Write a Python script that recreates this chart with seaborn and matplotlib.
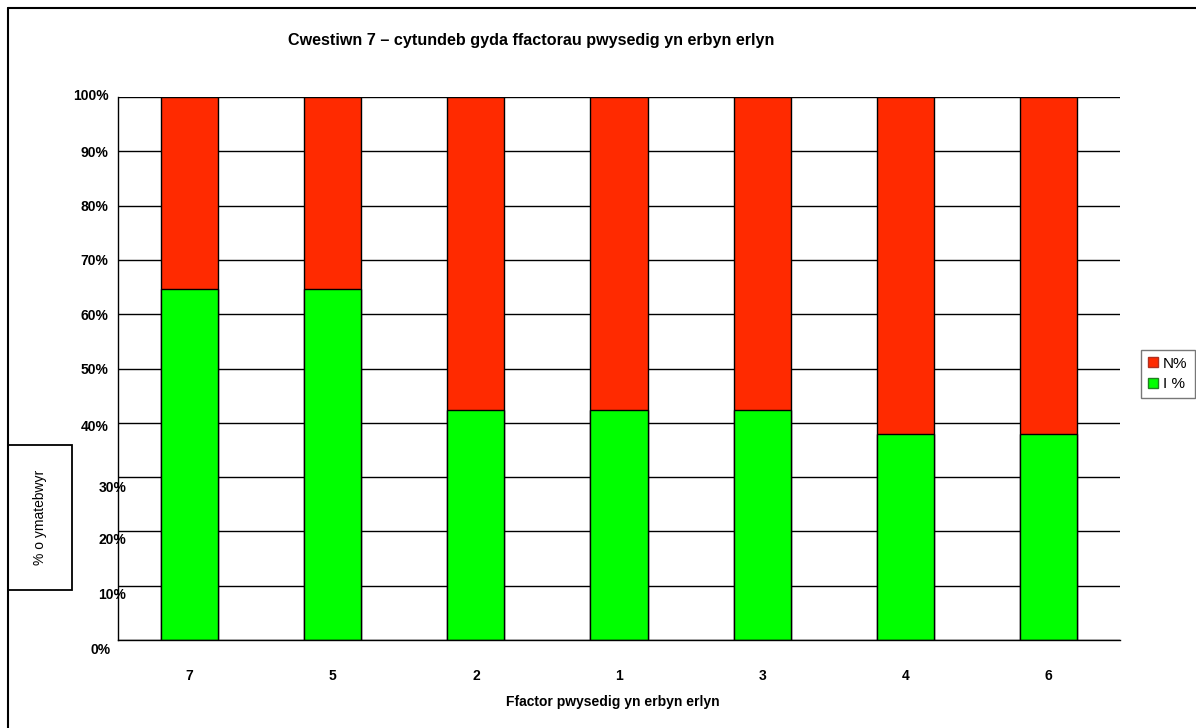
import matplotlib

matplotlib.use("Agg")
import matplotlib.pyplot as plt
import matplotlib.transforms as mtransforms
from matplotlib.patches import Patch, Rectangle
from matplotlib.lines import Line2D
import pandas as pd
import seaborn as sns

# Datos
factores = ["7", "5", "2", "1", "3", "4", "6"]
i_pct = [64.7, 64.7, 42.3, 42.3, 42.3, 37.9, 37.9]
n_pct = [35.3, 35.3, 57.7, 57.7, 57.7, 62.1, 62.1]
yticks = [0, 10, 20, 30, 40, 50, 60, 70, 80, 90, 100]

titulo = "Cwestiwn 7 \u2013 cytundeb gyda ffactorau pwysedig yn erbyn erlyn"
xlabel = "Ffactor pwysedig yn erbyn erlyn"
ylabel = "% o ymatebwyr"

rojo = "#FF2A00"
verde = "#00FF00"

df = pd.DataFrame({"factor": factores, "I": i_pct, "N": n_pct})
df["total"] = df["I"] + df["N"]

sns.set_style("white")
plt.rcParams["font.family"] = ["Liberation Sans", "DejaVu Sans"]
plt.rcParams["text.color"] = "black"
plt.rcParams["xtick.color"] = "black"
plt.rcParams["ytick.color"] = "black"

W, H = 1196, 728
fig = plt.figure(figsize=(W / 100, H / 100), dpi=100)
ax = fig.add_axes([118 / W, 1 - 640 / H, (1120 - 118) / W, (640 - 97) / H])

# Barras apiladas: primero el total (rojo), luego la parte verde
sns.barplot(data=df, x="factor", y="total", order=factores, color=rojo,
            width=0.4, edgecolor="black", linewidth=1, saturation=1, ax=ax)
sns.barplot(data=df, x="factor", y="I", order=factores, color=verde,
            width=0.4, edgecolor="black", linewidth=1, saturation=1, ax=ax)

ax.set_ylim(0, 100)
ax.set_xlim(-0.5, len(factores) - 0.5)
ax.set_yticks(yticks)
ax.set_yticklabels([f"{v}%" for v in yticks])
ax.yaxis.grid(True, color="black", linewidth=1)
ax.set_axisbelow(True)
ax.tick_params(axis="both", length=0, labelsize=10, labelcolor="black")
ax.tick_params(axis="y", pad=7)
ax.tick_params(axis="x", pad=21)
for lab in ax.get_xticklabels() + ax.get_yticklabels():
    lab.set_fontweight("bold")
ax.set_xlabel("")
ax.set_ylabel("")

for s in ["top", "right"]:
    ax.spines[s].set_visible(False)
for s in ["left", "bottom"]:
    ax.spines[s].set_color("black")
    ax.spines[s].set_linewidth(1)

# Desplazamientos de las etiquetas del eje y (como en el original)
desplaz = {0: (2, -8), 10: (18, -8), 20: (18, -7), 30: (18, -9), 40: (0, -3), 100: (0, 2)}
for lab, v in zip(ax.get_yticklabels(), yticks):
    dx, dy = desplaz.get(v, (0, 0))
    lab.set_transform(lab.get_transform() +
                      mtransforms.ScaledTranslation(dx / 100, dy / 100, fig.dpi_scale_trans))

# Título y etiqueta del eje x
fig.text(531 / W, 1 - 40 / H, titulo, ha="center", va="center",
         fontsize=11.6, fontweight="bold", color="black")
fig.text(613 / W, 1 - 702 / H, xlabel, ha="center", va="center",
         fontsize=10, fontweight="bold", color="black")

# Etiqueta del eje y dentro de un recuadro
fig.add_artist(Rectangle((8 / W, 1 - 590 / H), 64 / W, 145 / H,
                         transform=fig.transFigure, fill=False,
                         edgecolor="black", linewidth=1.3))
fig.text(40 / W, 1 - 517 / H, ylabel, rotation=90, ha="center", va="center",
         fontsize=10, color="black")

# Leyenda
handles = [Patch(facecolor=rojo, edgecolor="#B03020"),
           Patch(facecolor=verde, edgecolor="#208020")]
leg = fig.legend(handles, ["N%", "I %"], loc="center left",
                 bbox_to_anchor=(1141 / W, 1 - 374 / H), fontsize=11,
                 frameon=True, fancybox=False, handlelength=0.65,
                 handleheight=0.65, handletextpad=0.35, borderpad=0.45,
                 labelspacing=0.45, borderaxespad=0)
leg.get_frame().set_edgecolor("#555555")
leg.get_frame().set_linewidth(1)

# Marco exterior (solo arriba e izquierda)
fig.add_artist(Line2D([8 / W, 1], [1 - 8 / H, 1 - 8 / H],
                      transform=fig.transFigure, color="black", linewidth=1.5))
fig.add_artist(Line2D([8 / W, 8 / W], [0, 1 - 8 / H],
                      transform=fig.transFigure, color="black", linewidth=1.5))

plt.savefig("out.png", dpi=100)
plt.close()
